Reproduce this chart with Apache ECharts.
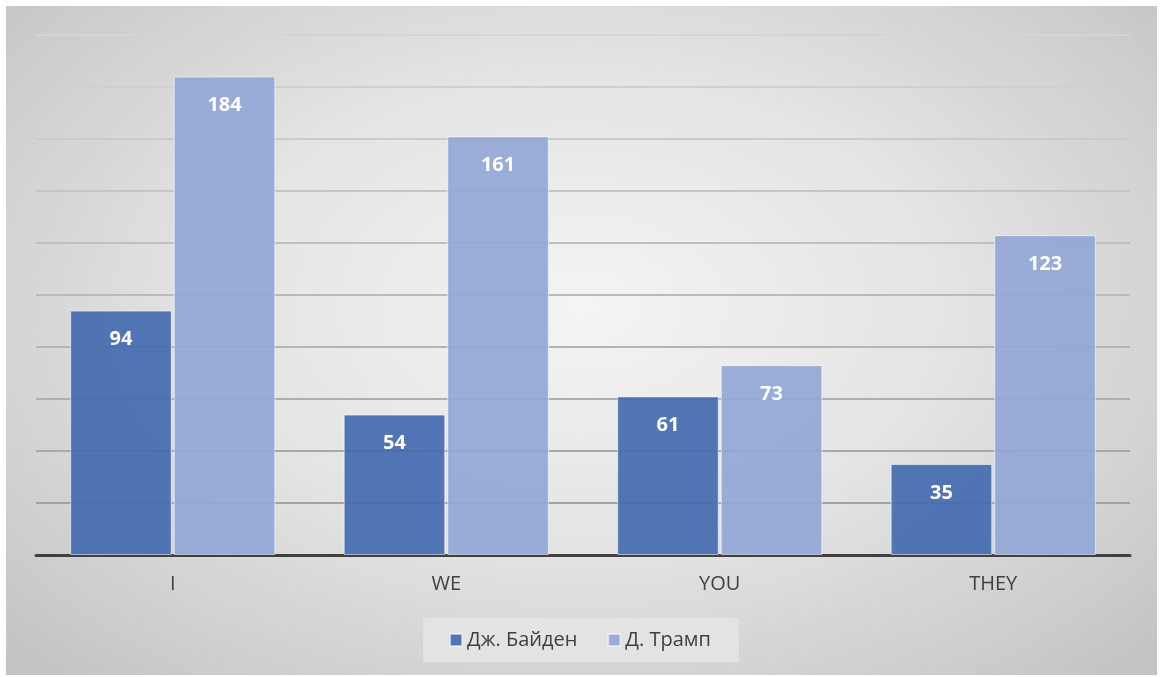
<!DOCTYPE html>
<html><head><meta charset="utf-8">
<script src="https://cdn.jsdelivr.net/npm/echarts@6/dist/echarts.min.js"></script>
<style>
html,body{margin:0;padding:0;background:#fff;}
#bg{position:absolute;left:6px;top:6px;width:1151px;height:669px;
background:radial-gradient(ellipse at 50% 45%, #f4f4f4 0%, #e4e4e4 45%, #c2c2c2 100%);}
#c{position:absolute;left:0;top:0;width:1160px;height:677px;}
</style></head>
<body><div id="bg"></div><div id="c"></div>
<script>
const categories = ['I', 'WE', 'YOU', 'THEY'];
const biden = [94, 54, 61, 35];
const trump = [184, 161, 73, 123];
const seriesNames = ['Дж. Байден', 'Д. Трамп'];

const chart = echarts.init(document.getElementById('c'));
const font = "'Open Sans', 'Noto Sans', sans-serif";
const labelCfg = {show:true, position:'insideTop', distance:19, color:'#fff', fontWeight:'bold', fontSize:20, fontFamily:font};
chart.setOption({
  backgroundColor:'transparent',
  animation:false,
  grid:{left:36, right:30, top:35, bottom:122},
  legend:{
    data:seriesNames, bottom:15, left:'center',
    backgroundColor:'#e3e3e3', padding:[12,28,12,26],
    itemWidth:12, itemHeight:12, itemGap:30, icon:'rect',
    textStyle:{fontSize:20, color:'#404040', fontFamily:font}
  },
  xAxis:{
    type:'category', data:categories,
    axisLine:{lineStyle:{color:'#404040', width:3}},
    axisTick:{show:false},
    axisLabel:{fontSize:20, color:'#404040', margin:19, fontFamily:font}
  },
  yAxis:{
    type:'value', min:0, max:200, interval:20,
    axisLabel:{show:false}, axisLine:{show:false}, axisTick:{show:false},
    splitLine:{lineStyle:{width:2, color:{type:'linear', x:0, y:0, x2:0, y2:677, global:true,
      colorStops:[{offset:0, color:'#d8d8d8'}, {offset:0.4, color:'#bdbdbd'}, {offset:0.8, color:'#9e9e9e'}, {offset:1, color:'#9a9a9a'}]}}}
  },
  series:[
    {name:seriesNames[0], type:'bar', data:biden, barGap:'2%', barCategoryGap:'25%',
     itemStyle:{color:'rgba(68,106,176,0.92)', borderColor:'rgba(255,255,255,0.55)', borderWidth:1},
     label:labelCfg},
    {name:seriesNames[1], type:'bar', data:trump,
     itemStyle:{color:'rgba(146,166,214,0.92)', borderColor:'rgba(255,255,255,0.55)', borderWidth:1},
     label:labelCfg}
  ]
});
</script></body></html>
